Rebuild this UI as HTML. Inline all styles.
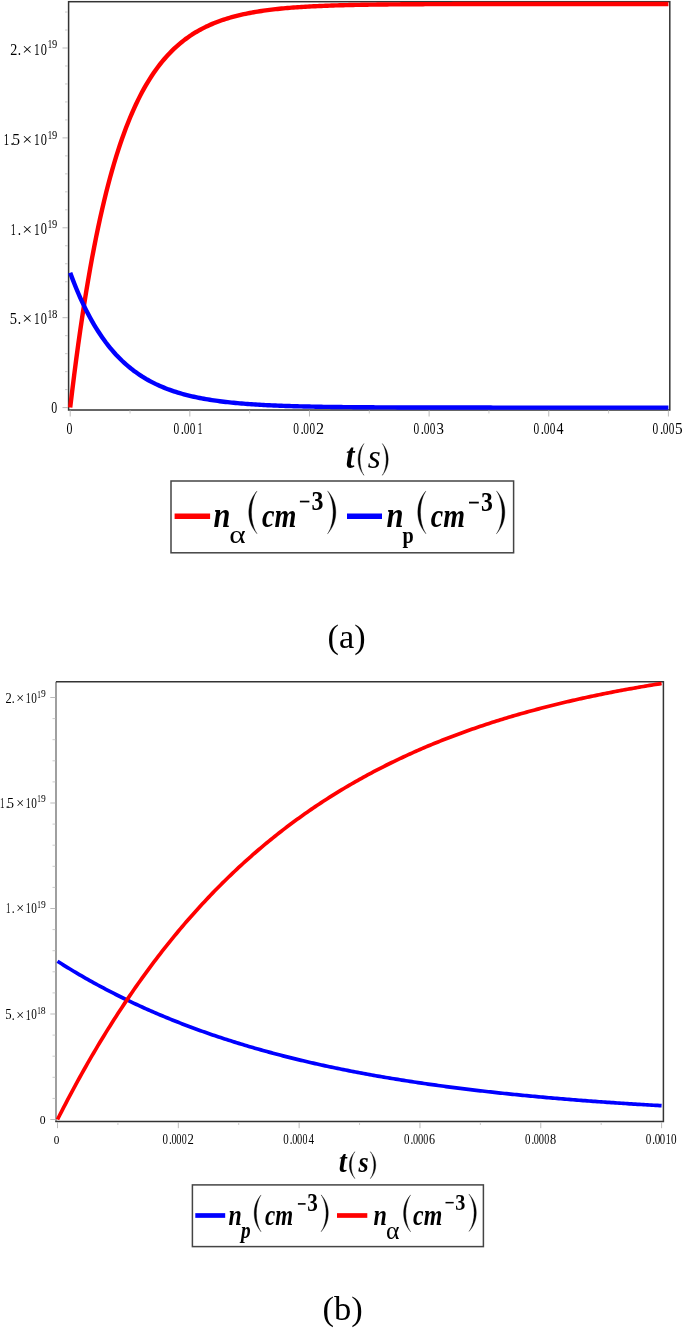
<!DOCTYPE html>
<html><head><meta charset="utf-8"><title>n_alpha and n_p vs time</title>
<style>html,body{margin:0;padding:0;background:#fff;}svg{display:block;will-change:transform;}</style></head>
<body><svg width="685" height="1328" viewBox="0 0 685 1328">
<rect width="685" height="1328" fill="#fff"/>
<rect x="68.6" y="1.7" width="601.2" height="408.3" fill="none" stroke="#333" stroke-width="1.5"/>
<line x1="62.5" y1="407.60" x2="68" y2="407.60" stroke="#bbb" stroke-width="1"/>
<line x1="65" y1="389.62" x2="68" y2="389.62" stroke="#ccc" stroke-width="1"/>
<line x1="65" y1="371.64" x2="68" y2="371.64" stroke="#ccc" stroke-width="1"/>
<line x1="65" y1="353.66" x2="68" y2="353.66" stroke="#ccc" stroke-width="1"/>
<line x1="65" y1="335.68" x2="68" y2="335.68" stroke="#ccc" stroke-width="1"/>
<line x1="62.5" y1="317.70" x2="68" y2="317.70" stroke="#bbb" stroke-width="1"/>
<line x1="65" y1="299.72" x2="68" y2="299.72" stroke="#ccc" stroke-width="1"/>
<line x1="65" y1="281.74" x2="68" y2="281.74" stroke="#ccc" stroke-width="1"/>
<line x1="65" y1="263.76" x2="68" y2="263.76" stroke="#ccc" stroke-width="1"/>
<line x1="65" y1="245.78" x2="68" y2="245.78" stroke="#ccc" stroke-width="1"/>
<line x1="62.5" y1="227.80" x2="68" y2="227.80" stroke="#bbb" stroke-width="1"/>
<line x1="65" y1="209.82" x2="68" y2="209.82" stroke="#ccc" stroke-width="1"/>
<line x1="65" y1="191.84" x2="68" y2="191.84" stroke="#ccc" stroke-width="1"/>
<line x1="65" y1="173.86" x2="68" y2="173.86" stroke="#ccc" stroke-width="1"/>
<line x1="65" y1="155.88" x2="68" y2="155.88" stroke="#ccc" stroke-width="1"/>
<line x1="62.5" y1="137.90" x2="68" y2="137.90" stroke="#bbb" stroke-width="1"/>
<line x1="65" y1="119.92" x2="68" y2="119.92" stroke="#ccc" stroke-width="1"/>
<line x1="65" y1="101.94" x2="68" y2="101.94" stroke="#ccc" stroke-width="1"/>
<line x1="65" y1="83.96" x2="68" y2="83.96" stroke="#ccc" stroke-width="1"/>
<line x1="65" y1="65.98" x2="68" y2="65.98" stroke="#ccc" stroke-width="1"/>
<line x1="62.5" y1="48.00" x2="68" y2="48.00" stroke="#bbb" stroke-width="1"/>
<line x1="65" y1="30.02" x2="68" y2="30.02" stroke="#ccc" stroke-width="1"/>
<line x1="65" y1="12.04" x2="68" y2="12.04" stroke="#ccc" stroke-width="1"/>
<line x1="70.20" y1="410.5" x2="70.20" y2="416.5" stroke="#bbb" stroke-width="1"/>
<line x1="130.02" y1="410.5" x2="130.02" y2="413.5" stroke="#ccc" stroke-width="1"/>
<line x1="189.84" y1="410.5" x2="189.84" y2="416.5" stroke="#bbb" stroke-width="1"/>
<line x1="249.66" y1="410.5" x2="249.66" y2="413.5" stroke="#ccc" stroke-width="1"/>
<line x1="309.48" y1="410.5" x2="309.48" y2="416.5" stroke="#bbb" stroke-width="1"/>
<line x1="369.30" y1="410.5" x2="369.30" y2="413.5" stroke="#ccc" stroke-width="1"/>
<line x1="429.12" y1="410.5" x2="429.12" y2="416.5" stroke="#bbb" stroke-width="1"/>
<line x1="488.94" y1="410.5" x2="488.94" y2="413.5" stroke="#ccc" stroke-width="1"/>
<line x1="548.76" y1="410.5" x2="548.76" y2="416.5" stroke="#bbb" stroke-width="1"/>
<line x1="608.58" y1="410.5" x2="608.58" y2="413.5" stroke="#ccc" stroke-width="1"/>
<line x1="668.40" y1="410.5" x2="668.40" y2="416.5" stroke="#bbb" stroke-width="1"/>
<path d="M70.20,407.60 L72.19,390.92 L74.19,374.93 L76.18,359.61 L78.18,344.91 L80.17,330.82 L82.16,317.32 L84.16,304.37 L86.15,291.96 L88.15,280.06 L90.14,268.65 L92.13,257.72 L94.13,247.23 L96.12,237.18 L98.12,227.54 L100.11,218.31 L102.10,209.45 L104.10,200.96 L106.09,192.82 L108.09,185.02 L110.08,177.53 L112.07,170.36 L114.07,163.49 L116.06,156.90 L118.06,150.58 L120.05,144.52 L122.04,138.71 L124.04,133.14 L126.03,127.80 L128.03,122.69 L130.02,117.78 L132.01,113.08 L134.01,108.57 L136.00,104.25 L138.00,100.10 L139.99,96.13 L141.98,92.32 L143.98,88.67 L145.97,85.17 L147.97,81.81 L149.96,78.60 L151.95,75.51 L153.95,72.56 L155.94,69.72 L157.94,67.00 L159.93,64.40 L161.92,61.90 L163.92,59.51 L165.91,57.21 L167.91,55.01 L169.90,52.90 L171.89,50.88 L173.89,48.94 L175.88,47.08 L177.88,45.30 L179.87,43.59 L181.86,41.95 L183.86,40.38 L185.85,38.88 L187.85,37.43 L189.84,36.05 L191.83,34.72 L193.83,33.45 L195.82,32.23 L197.82,31.07 L199.81,29.94 L201.80,28.87 L203.80,27.84 L205.79,26.85 L207.79,25.91 L209.78,25.00 L211.77,24.13 L213.77,23.30 L215.76,22.50 L217.76,21.73 L219.75,21.00 L221.74,20.29 L223.74,19.62 L225.73,18.97 L227.73,18.35 L229.72,17.75 L231.71,17.18 L233.71,16.64 L235.70,16.11 L237.70,15.61 L239.69,15.13 L241.68,14.67 L243.68,14.22 L245.67,13.80 L247.67,13.39 L249.66,13.00 L251.65,12.63 L253.65,12.27 L255.64,11.93 L257.64,11.60 L259.63,11.28 L261.62,10.98 L263.62,10.69 L265.61,10.41 L267.61,10.14 L269.60,9.89 L271.59,9.64 L273.59,9.41 L275.58,9.18 L277.58,8.96 L279.57,8.76 L281.56,8.56 L283.56,8.37 L285.55,8.18 L287.55,8.01 L289.54,7.84 L291.53,7.68 L293.53,7.53 L295.52,7.38 L297.52,7.24 L299.51,7.10 L301.50,6.97 L303.50,6.85 L305.49,6.73 L307.49,6.61 L309.48,6.50 L311.47,6.40 L313.47,6.30 L315.46,6.20 L317.46,6.11 L319.45,6.02 L321.44,5.93 L323.44,5.85 L325.43,5.77 L327.43,5.70 L329.42,5.62 L331.41,5.55 L333.41,5.49 L335.40,5.42 L337.40,5.36 L339.39,5.30 L341.38,5.25 L343.38,5.20 L345.37,5.14 L347.37,5.09 L349.36,5.05 L351.35,5.00 L353.35,4.96 L355.34,4.92 L357.34,4.88 L359.33,4.84 L361.32,4.80 L363.32,4.77 L365.31,4.73 L367.31,4.70 L369.30,4.67 L371.29,4.64 L373.29,4.61 L375.28,4.58 L377.28,4.56 L379.27,4.53 L381.26,4.51 L383.26,4.48 L385.25,4.46 L387.25,4.44 L389.24,4.42 L391.23,4.40 L393.23,4.38 L395.22,4.36 L397.22,4.35 L399.21,4.33 L401.20,4.32 L403.20,4.30 L405.19,4.29 L407.19,4.27 L409.18,4.26 L411.17,4.25 L413.17,4.23 L415.16,4.22 L417.16,4.21 L419.15,4.20 L421.14,4.19 L423.14,4.18 L425.13,4.17 L427.13,4.16 L429.12,4.15 L431.11,4.14 L433.11,4.14 L435.10,4.13 L437.10,4.12 L439.09,4.11 L441.08,4.11 L443.08,4.10 L445.07,4.09 L447.07,4.09 L449.06,4.08 L451.05,4.08 L453.05,4.07 L455.04,4.07 L457.04,4.06 L459.03,4.06 L461.02,4.05 L463.02,4.05 L465.01,4.04 L467.01,4.04 L469.00,4.04 L470.99,4.03 L472.99,4.03 L474.98,4.03 L476.98,4.02 L478.97,4.02 L480.96,4.02 L482.96,4.01 L484.95,4.01 L486.95,4.01 L488.94,4.01 L490.93,4.00 L492.93,4.00 L494.92,4.00 L496.92,4.00 L498.91,4.00 L500.90,3.99 L502.90,3.99 L504.89,3.99 L506.89,3.99 L508.88,3.99 L510.87,3.98 L512.87,3.98 L514.86,3.98 L516.86,3.98 L518.85,3.98 L520.84,3.98 L522.84,3.98 L524.83,3.98 L526.83,3.97 L528.82,3.97 L530.81,3.97 L532.81,3.97 L534.80,3.97 L536.80,3.97 L538.79,3.97 L540.78,3.97 L542.78,3.97 L544.77,3.97 L546.77,3.97 L548.76,3.97 L550.75,3.96 L552.75,3.96 L554.74,3.96 L556.74,3.96 L558.73,3.96 L560.72,3.96 L562.72,3.96 L564.71,3.96 L566.71,3.96 L568.70,3.96 L570.69,3.96 L572.69,3.96 L574.68,3.96 L576.68,3.96 L578.67,3.96 L580.66,3.96 L582.66,3.96 L584.65,3.96 L586.65,3.96 L588.64,3.96 L590.63,3.96 L592.63,3.96 L594.62,3.96 L596.62,3.95 L598.61,3.95 L600.60,3.95 L602.60,3.95 L604.59,3.95 L606.59,3.95 L608.58,3.95 L610.57,3.95 L612.57,3.95 L614.56,3.95 L616.56,3.95 L618.55,3.95 L620.54,3.95 L622.54,3.95 L624.53,3.95 L626.53,3.95 L628.52,3.95 L630.51,3.95 L632.51,3.95 L634.50,3.95 L636.50,3.95 L638.49,3.95 L640.48,3.95 L642.48,3.95 L644.47,3.95 L646.47,3.95 L648.46,3.95 L650.45,3.95 L652.45,3.95 L654.44,3.95 L656.44,3.95 L658.43,3.95 L660.42,3.95 L662.42,3.95 L664.41,3.95 L666.41,3.95 L668.40,3.95" fill="none" stroke="#ff0000" stroke-width="4.4" stroke-linejoin="round"/>
<path d="M70.20,272.75 L72.19,278.12 L74.19,283.28 L76.18,288.23 L78.18,292.99 L80.17,297.55 L82.16,301.94 L84.16,306.15 L86.15,310.19 L88.15,314.07 L90.14,317.79 L92.13,321.37 L94.13,324.81 L96.12,328.10 L98.12,331.27 L100.11,334.31 L102.10,337.23 L104.10,340.03 L106.09,342.73 L108.09,345.31 L110.08,347.79 L112.07,350.17 L114.07,352.46 L116.06,354.66 L118.06,356.77 L120.05,358.79 L122.04,360.74 L124.04,362.60 L126.03,364.40 L128.03,366.12 L130.02,367.77 L132.01,369.36 L134.01,370.88 L136.00,372.34 L138.00,373.75 L139.99,375.09 L141.98,376.39 L143.98,377.63 L145.97,378.83 L147.97,379.97 L149.96,381.07 L151.95,382.13 L153.95,383.14 L155.94,384.12 L157.94,385.05 L159.93,385.95 L161.92,386.81 L163.92,387.64 L165.91,388.44 L167.91,389.20 L169.90,389.93 L171.89,390.64 L173.89,391.31 L175.88,391.96 L177.88,392.59 L179.87,393.18 L181.86,393.76 L183.86,394.31 L185.85,394.84 L187.85,395.35 L189.84,395.83 L191.83,396.30 L193.83,396.75 L195.82,397.19 L197.82,397.60 L199.81,398.00 L201.80,398.38 L203.80,398.75 L205.79,399.10 L207.79,399.44 L209.78,399.76 L211.77,400.08 L213.77,400.38 L215.76,400.66 L217.76,400.94 L219.75,401.21 L221.74,401.46 L223.74,401.71 L225.73,401.94 L227.73,402.17 L229.72,402.38 L231.71,402.59 L233.71,402.79 L235.70,402.98 L237.70,403.16 L239.69,403.34 L241.68,403.51 L243.68,403.67 L245.67,403.83 L247.67,403.98 L249.66,404.12 L251.65,404.26 L253.65,404.40 L255.64,404.52 L257.64,404.65 L259.63,404.76 L261.62,404.88 L263.62,404.99 L265.61,405.09 L267.61,405.19 L269.60,405.29 L271.59,405.38 L273.59,405.47 L275.58,405.55 L277.58,405.63 L279.57,405.71 L281.56,405.79 L283.56,405.86 L285.55,405.93 L287.55,405.99 L289.54,406.06 L291.53,406.12 L293.53,406.18 L295.52,406.24 L297.52,406.29 L299.51,406.34 L301.50,406.39 L303.50,406.44 L305.49,406.49 L307.49,406.53 L309.48,406.57 L311.47,406.61 L313.47,406.65 L315.46,406.69 L317.46,406.73 L319.45,406.76 L321.44,406.80 L323.44,406.83 L325.43,406.86 L327.43,406.89 L329.42,406.92 L331.41,406.94 L333.41,406.97 L335.40,406.99 L337.40,407.02 L339.39,407.04 L341.38,407.06 L343.38,407.09 L345.37,407.11 L347.37,407.13 L349.36,407.14 L351.35,407.16 L353.35,407.18 L355.34,407.20 L357.34,407.21 L359.33,407.23 L361.32,407.24 L363.32,407.26 L365.31,407.27 L367.31,407.28 L369.30,407.30 L371.29,407.31 L373.29,407.32 L375.28,407.33 L377.28,407.34 L379.27,407.35 L381.26,407.36 L383.26,407.37 L385.25,407.38 L387.25,407.39 L389.24,407.40 L391.23,407.41 L393.23,407.41 L395.22,407.42 L397.22,407.43 L399.21,407.44 L401.20,407.44 L403.20,407.45 L405.19,407.45 L407.19,407.46 L409.18,407.47 L411.17,407.47 L413.17,407.48 L415.16,407.48 L417.16,407.49 L419.15,407.49 L421.14,407.49 L423.14,407.50 L425.13,407.50 L427.13,407.51 L429.12,407.51 L431.11,407.51 L433.11,407.52 L435.10,407.52 L437.10,407.52 L439.09,407.53 L441.08,407.53 L443.08,407.53 L445.07,407.54 L447.07,407.54 L449.06,407.54 L451.05,407.54 L453.05,407.55 L455.04,407.55 L457.04,407.55 L459.03,407.55 L461.02,407.55 L463.02,407.56 L465.01,407.56 L467.01,407.56 L469.00,407.56 L470.99,407.56 L472.99,407.56 L474.98,407.56 L476.98,407.57 L478.97,407.57 L480.96,407.57 L482.96,407.57 L484.95,407.57 L486.95,407.57 L488.94,407.57 L490.93,407.57 L492.93,407.58 L494.92,407.58 L496.92,407.58 L498.91,407.58 L500.90,407.58 L502.90,407.58 L504.89,407.58 L506.89,407.58 L508.88,407.58 L510.87,407.58 L512.87,407.58 L514.86,407.58 L516.86,407.59 L518.85,407.59 L520.84,407.59 L522.84,407.59 L524.83,407.59 L526.83,407.59 L528.82,407.59 L530.81,407.59 L532.81,407.59 L534.80,407.59 L536.80,407.59 L538.79,407.59 L540.78,407.59 L542.78,407.59 L544.77,407.59 L546.77,407.59 L548.76,407.59 L550.75,407.59 L552.75,407.59 L554.74,407.59 L556.74,407.59 L558.73,407.59 L560.72,407.59 L562.72,407.59 L564.71,407.59 L566.71,407.59 L568.70,407.59 L570.69,407.60 L572.69,407.60 L574.68,407.60 L576.68,407.60 L578.67,407.60 L580.66,407.60 L582.66,407.60 L584.65,407.60 L586.65,407.60 L588.64,407.60 L590.63,407.60 L592.63,407.60 L594.62,407.60 L596.62,407.60 L598.61,407.60 L600.60,407.60 L602.60,407.60 L604.59,407.60 L606.59,407.60 L608.58,407.60 L610.57,407.60 L612.57,407.60 L614.56,407.60 L616.56,407.60 L618.55,407.60 L620.54,407.60 L622.54,407.60 L624.53,407.60 L626.53,407.60 L628.52,407.60 L630.51,407.60 L632.51,407.60 L634.50,407.60 L636.50,407.60 L638.49,407.60 L640.48,407.60 L642.48,407.60 L644.47,407.60 L646.47,407.60 L648.46,407.60 L650.45,407.60 L652.45,407.60 L654.44,407.60 L656.44,407.60 L658.43,407.60 L660.42,407.60 L662.42,407.60 L664.41,407.60 L666.41,407.60 L668.40,407.60" fill="none" stroke="#0000ff" stroke-width="4.4" stroke-linejoin="round"/>
<text transform="translate(10.13,54.85) scale(0.8247,1)" font-family="'Liberation Serif', serif" font-style="normal" font-weight="normal" font-size="17.15" fill="#000">2</text>
<text transform="translate(17.67,54.85) scale(0.8000,1)" font-family="'Liberation Serif', serif" font-style="normal" font-weight="normal" font-size="16.60" fill="#000">.</text>
<text transform="translate(22.28,54.86) scale(1.1196,1)" font-family="'Liberation Serif', serif" font-style="normal" font-weight="normal" font-size="15.85" fill="#000">×</text>
<text transform="translate(33.97,54.85) scale(0.6662,1)" font-family="'Liberation Serif', serif" font-style="normal" font-weight="normal" font-size="17.15" fill="#000">1</text>
<text transform="translate(40.70,54.68) scale(0.7440,1)" font-family="'Liberation Serif', serif" font-style="normal" font-weight="normal" font-size="16.64" fill="#000">0</text>
<text transform="translate(47.80,48.30) scale(0.7288,1)" font-family="'Liberation Serif', serif" font-style="normal" font-weight="normal" font-size="12.15" fill="#000">1</text>
<text transform="translate(52.09,48.18) scale(0.8875,1)" font-family="'Liberation Serif', serif" font-style="normal" font-weight="normal" font-size="11.79" fill="#000">9</text>
<text transform="translate(3.65,145.35) scale(0.6163,1)" font-family="'Liberation Serif', serif" font-style="normal" font-weight="normal" font-size="17.15" fill="#000">1</text>
<text transform="translate(10.57,145.35) scale(0.8000,1)" font-family="'Liberation Serif', serif" font-style="normal" font-weight="normal" font-size="16.60" fill="#000">.</text>
<text transform="translate(12.17,145.18) scale(0.9175,1)" font-family="'Liberation Serif', serif" font-style="normal" font-weight="normal" font-size="16.89" fill="#000">5</text>
<text transform="translate(22.28,145.36) scale(1.1196,1)" font-family="'Liberation Serif', serif" font-style="normal" font-weight="normal" font-size="15.85" fill="#000">×</text>
<text transform="translate(33.97,145.35) scale(0.6662,1)" font-family="'Liberation Serif', serif" font-style="normal" font-weight="normal" font-size="17.15" fill="#000">1</text>
<text transform="translate(40.70,145.18) scale(0.7440,1)" font-family="'Liberation Serif', serif" font-style="normal" font-weight="normal" font-size="16.64" fill="#000">0</text>
<text transform="translate(47.80,138.80) scale(0.7288,1)" font-family="'Liberation Serif', serif" font-style="normal" font-weight="normal" font-size="12.15" fill="#000">1</text>
<text transform="translate(52.09,138.68) scale(0.8875,1)" font-family="'Liberation Serif', serif" font-style="normal" font-weight="normal" font-size="11.79" fill="#000">9</text>
<text transform="translate(10.70,234.55) scale(0.5830,1)" font-family="'Liberation Serif', serif" font-style="normal" font-weight="normal" font-size="17.15" fill="#000">1</text>
<text transform="translate(17.67,234.55) scale(0.8000,1)" font-family="'Liberation Serif', serif" font-style="normal" font-weight="normal" font-size="16.60" fill="#000">.</text>
<text transform="translate(22.28,234.56) scale(1.1196,1)" font-family="'Liberation Serif', serif" font-style="normal" font-weight="normal" font-size="15.85" fill="#000">×</text>
<text transform="translate(33.97,234.55) scale(0.6662,1)" font-family="'Liberation Serif', serif" font-style="normal" font-weight="normal" font-size="17.15" fill="#000">1</text>
<text transform="translate(40.70,234.38) scale(0.7440,1)" font-family="'Liberation Serif', serif" font-style="normal" font-weight="normal" font-size="16.64" fill="#000">0</text>
<text transform="translate(47.80,228.00) scale(0.7288,1)" font-family="'Liberation Serif', serif" font-style="normal" font-weight="normal" font-size="12.15" fill="#000">1</text>
<text transform="translate(52.09,227.88) scale(0.8875,1)" font-family="'Liberation Serif', serif" font-style="normal" font-weight="normal" font-size="11.79" fill="#000">9</text>
<text transform="translate(9.83,324.18) scale(0.8583,1)" font-family="'Liberation Serif', serif" font-style="normal" font-weight="normal" font-size="16.89" fill="#000">5</text>
<text transform="translate(17.67,324.35) scale(0.8000,1)" font-family="'Liberation Serif', serif" font-style="normal" font-weight="normal" font-size="16.60" fill="#000">.</text>
<text transform="translate(22.28,324.36) scale(1.1196,1)" font-family="'Liberation Serif', serif" font-style="normal" font-weight="normal" font-size="15.85" fill="#000">×</text>
<text transform="translate(33.97,324.35) scale(0.6662,1)" font-family="'Liberation Serif', serif" font-style="normal" font-weight="normal" font-size="17.15" fill="#000">1</text>
<text transform="translate(40.70,324.18) scale(0.7440,1)" font-family="'Liberation Serif', serif" font-style="normal" font-weight="normal" font-size="16.64" fill="#000">0</text>
<text transform="translate(47.80,317.80) scale(0.7288,1)" font-family="'Liberation Serif', serif" font-style="normal" font-weight="normal" font-size="12.15" fill="#000">1</text>
<text transform="translate(51.97,317.68) scale(0.9087,1)" font-family="'Liberation Serif', serif" font-style="normal" font-weight="normal" font-size="11.79" fill="#000">8</text>
<text transform="translate(51.32,412.84) scale(0.7385,1)" font-family="'Liberation Serif', serif" font-style="normal" font-weight="normal" font-size="16.12" fill="#000">0</text>
<text transform="translate(66.52,433.64) scale(0.7385,1)" font-family="'Liberation Serif', serif" font-style="normal" font-weight="normal" font-size="16.12" fill="#000">0</text>
<text transform="translate(173.44,433.74) scale(0.6961,1)" font-family="'Liberation Serif', serif" font-style="normal" font-weight="normal" font-size="16.42" fill="#000">0</text>
<text transform="translate(180.87,433.90) scale(0.8000,1)" font-family="'Liberation Serif', serif" font-style="normal" font-weight="normal" font-size="16.60" fill="#000">.</text>
<text transform="translate(183.64,433.74) scale(0.6961,1)" font-family="'Liberation Serif', serif" font-style="normal" font-weight="normal" font-size="16.42" fill="#000">0</text>
<text transform="translate(189.75,433.74) scale(0.6816,1)" font-family="'Liberation Serif', serif" font-style="normal" font-weight="normal" font-size="16.42" fill="#000">0</text>
<text transform="translate(197.60,433.90) scale(0.5909,1)" font-family="'Liberation Serif', serif" font-style="normal" font-weight="normal" font-size="16.92" fill="#000">1</text>
<text transform="translate(293.14,433.74) scale(0.6961,1)" font-family="'Liberation Serif', serif" font-style="normal" font-weight="normal" font-size="16.42" fill="#000">0</text>
<text transform="translate(300.57,433.90) scale(0.8000,1)" font-family="'Liberation Serif', serif" font-style="normal" font-weight="normal" font-size="16.60" fill="#000">.</text>
<text transform="translate(303.34,433.74) scale(0.6961,1)" font-family="'Liberation Serif', serif" font-style="normal" font-weight="normal" font-size="16.42" fill="#000">0</text>
<text transform="translate(309.45,433.74) scale(0.6816,1)" font-family="'Liberation Serif', serif" font-style="normal" font-weight="normal" font-size="16.42" fill="#000">0</text>
<text transform="translate(315.96,433.90) scale(0.9512,1)" font-family="'Liberation Serif', serif" font-style="normal" font-weight="normal" font-size="16.92" fill="#000">2</text>
<text transform="translate(413.44,433.74) scale(0.6961,1)" font-family="'Liberation Serif', serif" font-style="normal" font-weight="normal" font-size="16.42" fill="#000">0</text>
<text transform="translate(420.87,433.90) scale(0.8000,1)" font-family="'Liberation Serif', serif" font-style="normal" font-weight="normal" font-size="16.60" fill="#000">.</text>
<text transform="translate(423.64,433.74) scale(0.6961,1)" font-family="'Liberation Serif', serif" font-style="normal" font-weight="normal" font-size="16.42" fill="#000">0</text>
<text transform="translate(429.75,433.74) scale(0.6816,1)" font-family="'Liberation Serif', serif" font-style="normal" font-weight="normal" font-size="16.42" fill="#000">0</text>
<text transform="translate(436.56,433.74) scale(0.9062,1)" font-family="'Liberation Serif', serif" font-style="normal" font-weight="normal" font-size="16.42" fill="#000">3</text>
<text transform="translate(533.44,433.74) scale(0.6961,1)" font-family="'Liberation Serif', serif" font-style="normal" font-weight="normal" font-size="16.42" fill="#000">0</text>
<text transform="translate(540.87,433.90) scale(0.8000,1)" font-family="'Liberation Serif', serif" font-style="normal" font-weight="normal" font-size="16.60" fill="#000">.</text>
<text transform="translate(543.64,433.74) scale(0.6961,1)" font-family="'Liberation Serif', serif" font-style="normal" font-weight="normal" font-size="16.42" fill="#000">0</text>
<text transform="translate(549.75,433.74) scale(0.6816,1)" font-family="'Liberation Serif', serif" font-style="normal" font-weight="normal" font-size="16.42" fill="#000">0</text>
<text transform="translate(556.52,433.90) scale(0.8298,1)" font-family="'Liberation Serif', serif" font-style="normal" font-weight="normal" font-size="16.92" fill="#000">4</text>
<text transform="translate(652.54,433.74) scale(0.6961,1)" font-family="'Liberation Serif', serif" font-style="normal" font-weight="normal" font-size="16.42" fill="#000">0</text>
<text transform="translate(659.97,433.90) scale(0.8000,1)" font-family="'Liberation Serif', serif" font-style="normal" font-weight="normal" font-size="16.60" fill="#000">.</text>
<text transform="translate(662.74,433.74) scale(0.6961,1)" font-family="'Liberation Serif', serif" font-style="normal" font-weight="normal" font-size="16.42" fill="#000">0</text>
<text transform="translate(668.85,433.74) scale(0.6816,1)" font-family="'Liberation Serif', serif" font-style="normal" font-weight="normal" font-size="16.42" fill="#000">0</text>
<text transform="translate(675.09,433.73) scale(0.9150,1)" font-family="'Liberation Serif', serif" font-style="normal" font-weight="normal" font-size="16.67" fill="#000">5</text>
<text transform="translate(345.86,467.73) scale(0.8586,1)" font-family="'Liberation Serif', serif" font-style="italic" font-weight="bold" font-size="36.67" fill="#000">t</text>
<path d="M364.10,443.60 C356.10,452.16 356.10,466.74 364.10,475.30 L363.60,475.00 C358.80,466.74 358.80,452.16 363.60,443.90 Z" fill="#000" stroke="#000" stroke-width="0.35"/>
<text transform="translate(367.77,467.76) scale(0.9966,1)" font-family="'Liberation Serif', serif" font-style="italic" font-weight="normal" font-size="33.54" fill="#000">s</text>
<path d="M382.20,443.60 C390.20,452.16 390.20,466.74 382.20,475.30 L382.70,475.00 C387.50,466.74 387.50,452.16 382.70,443.90 Z" fill="#000" stroke="#000" stroke-width="0.35"/>
<rect x="171" y="481" width="342.6" height="71.8" fill="none" stroke="#444" stroke-width="1.5"/>
<line x1="174.6" y1="516.2" x2="210.1" y2="516.2" stroke="#ff0000" stroke-width="5.4"/>
<text transform="translate(213.59,526.90) scale(0.8715,1)" font-family="'Liberation Serif', serif" font-style="italic" font-weight="bold" font-size="34.89" fill="#000">n</text>
<text transform="translate(229.25,542.95) scale(1.2316,1)" font-family="'Liberation Serif', serif" font-style="normal" font-weight="normal" font-size="25.42" fill="#000">α</text>
<path d="M257.10,491.10 C246.03,502.58 246.03,522.12 257.10,533.60 L256.60,533.30 C249.67,522.12 249.67,502.58 256.60,491.40 Z" fill="#000" stroke="#000" stroke-width="0.35"/>
<text transform="translate(261.92,526.56) scale(0.8251,1)" font-family="'Liberation Serif', serif" font-style="italic" font-weight="bold" font-size="34.17" fill="#000">cm</text>
<rect x="299.90" y="500.70" width="9.50" height="1.70" fill="#000"/>
<text transform="translate(311.44,509.62) scale(0.8582,1)" font-family="'Liberation Serif', serif" font-style="normal" font-weight="bold" font-size="27.91" fill="#000">3</text>
<path d="M327.60,491.10 C338.53,502.58 338.53,522.12 327.60,533.60 L328.10,533.30 C334.90,522.12 334.90,502.58 328.10,491.40 Z" fill="#000" stroke="#000" stroke-width="0.35"/>
<line x1="347" y1="516.2" x2="382" y2="516.2" stroke="#0000ff" stroke-width="5.4"/>
<text transform="translate(386.39,526.90) scale(0.8773,1)" font-family="'Liberation Serif', serif" font-style="italic" font-weight="bold" font-size="34.89" fill="#000">n</text>
<text transform="translate(402.50,543.06) scale(0.8583,1)" font-family="'Liberation Serif', serif" font-style="normal" font-weight="bold" font-size="23.53" fill="#000">p</text>
<path d="M426.00,491.10 C415.07,502.58 415.07,522.12 426.00,533.60 L425.50,533.30 C418.70,522.12 418.70,502.58 425.50,491.40 Z" fill="#000" stroke="#000" stroke-width="0.35"/>
<text transform="translate(430.72,526.56) scale(0.8200,1)" font-family="'Liberation Serif', serif" font-style="italic" font-weight="bold" font-size="34.17" fill="#000">cm</text>
<rect x="469.00" y="501.70" width="9.80" height="1.80" fill="#000"/>
<text transform="translate(480.95,510.82) scale(0.8499,1)" font-family="'Liberation Serif', serif" font-style="normal" font-weight="bold" font-size="27.91" fill="#000">3</text>
<path d="M496.50,491.10 C507.57,502.58 507.57,522.12 496.50,533.60 L497.00,533.30 C503.93,522.12 503.93,502.58 497.00,491.40 Z" fill="#000" stroke="#000" stroke-width="0.35"/>
<text transform="translate(327.53,647.92) scale(0.9886,1)" font-family="'Liberation Serif', serif" font-style="normal" font-weight="normal" font-size="34.67" fill="#000">(a)</text>
<line x1="56" y1="681.7" x2="56" y2="1122" stroke="#888" stroke-width="1.6"/>
<polyline points="56,681.7 663.4,681.7 663.4,1121.4 55.3,1121.4" fill="none" stroke="#333" stroke-width="1.5"/>
<line x1="50.3" y1="1119.50" x2="55.3" y2="1119.50" stroke="#bbb" stroke-width="1"/>
<line x1="52.5" y1="1098.40" x2="55.3" y2="1098.40" stroke="#ccc" stroke-width="1"/>
<line x1="52.5" y1="1077.30" x2="55.3" y2="1077.30" stroke="#ccc" stroke-width="1"/>
<line x1="52.5" y1="1056.20" x2="55.3" y2="1056.20" stroke="#ccc" stroke-width="1"/>
<line x1="52.5" y1="1035.10" x2="55.3" y2="1035.10" stroke="#ccc" stroke-width="1"/>
<line x1="50.3" y1="1014.00" x2="55.3" y2="1014.00" stroke="#bbb" stroke-width="1"/>
<line x1="52.5" y1="992.90" x2="55.3" y2="992.90" stroke="#ccc" stroke-width="1"/>
<line x1="52.5" y1="971.80" x2="55.3" y2="971.80" stroke="#ccc" stroke-width="1"/>
<line x1="52.5" y1="950.70" x2="55.3" y2="950.70" stroke="#ccc" stroke-width="1"/>
<line x1="52.5" y1="929.60" x2="55.3" y2="929.60" stroke="#ccc" stroke-width="1"/>
<line x1="50.3" y1="908.50" x2="55.3" y2="908.50" stroke="#bbb" stroke-width="1"/>
<line x1="52.5" y1="887.40" x2="55.3" y2="887.40" stroke="#ccc" stroke-width="1"/>
<line x1="52.5" y1="866.30" x2="55.3" y2="866.30" stroke="#ccc" stroke-width="1"/>
<line x1="52.5" y1="845.20" x2="55.3" y2="845.20" stroke="#ccc" stroke-width="1"/>
<line x1="52.5" y1="824.10" x2="55.3" y2="824.10" stroke="#ccc" stroke-width="1"/>
<line x1="50.3" y1="803.00" x2="55.3" y2="803.00" stroke="#bbb" stroke-width="1"/>
<line x1="52.5" y1="781.90" x2="55.3" y2="781.90" stroke="#ccc" stroke-width="1"/>
<line x1="52.5" y1="760.80" x2="55.3" y2="760.80" stroke="#ccc" stroke-width="1"/>
<line x1="52.5" y1="739.70" x2="55.3" y2="739.70" stroke="#ccc" stroke-width="1"/>
<line x1="52.5" y1="718.60" x2="55.3" y2="718.60" stroke="#ccc" stroke-width="1"/>
<line x1="50.3" y1="697.50" x2="55.3" y2="697.50" stroke="#bbb" stroke-width="1"/>
<line x1="57.50" y1="1122" x2="57.50" y2="1128.2" stroke="#bbb" stroke-width="1"/>
<line x1="117.91" y1="1122" x2="117.91" y2="1125" stroke="#ccc" stroke-width="1"/>
<line x1="178.32" y1="1122" x2="178.32" y2="1128.2" stroke="#bbb" stroke-width="1"/>
<line x1="238.73" y1="1122" x2="238.73" y2="1125" stroke="#ccc" stroke-width="1"/>
<line x1="299.14" y1="1122" x2="299.14" y2="1128.2" stroke="#bbb" stroke-width="1"/>
<line x1="359.55" y1="1122" x2="359.55" y2="1125" stroke="#ccc" stroke-width="1"/>
<line x1="419.96" y1="1122" x2="419.96" y2="1128.2" stroke="#bbb" stroke-width="1"/>
<line x1="480.37" y1="1122" x2="480.37" y2="1125" stroke="#ccc" stroke-width="1"/>
<line x1="540.78" y1="1122" x2="540.78" y2="1128.2" stroke="#bbb" stroke-width="1"/>
<line x1="601.19" y1="1122" x2="601.19" y2="1125" stroke="#ccc" stroke-width="1"/>
<line x1="661.60" y1="1122" x2="661.60" y2="1128.2" stroke="#bbb" stroke-width="1"/>
<path d="M57.50,961.25 L59.51,962.53 L61.53,963.80 L63.54,965.06 L65.55,966.31 L67.57,967.55 L69.58,968.78 L71.60,970.00 L73.61,971.22 L75.62,972.42 L77.64,973.61 L79.65,974.79 L81.66,975.96 L83.68,977.12 L85.69,978.27 L87.70,979.42 L89.72,980.55 L91.73,981.68 L93.75,982.79 L95.76,983.90 L97.77,985.00 L99.79,986.09 L101.80,987.17 L103.81,988.24 L105.83,989.30 L107.84,990.36 L109.86,991.40 L111.87,992.44 L113.88,993.47 L115.90,994.49 L117.91,995.50 L119.92,996.51 L121.94,997.50 L123.95,998.49 L125.96,999.47 L127.98,1000.44 L129.99,1001.40 L132.01,1002.36 L134.02,1003.31 L136.03,1004.25 L138.05,1005.18 L140.06,1006.11 L142.07,1007.03 L144.09,1007.94 L146.10,1008.84 L148.12,1009.74 L150.13,1010.63 L152.14,1011.51 L154.16,1012.38 L156.17,1013.25 L158.18,1014.11 L160.20,1014.96 L162.21,1015.81 L164.22,1016.65 L166.24,1017.48 L168.25,1018.31 L170.27,1019.13 L172.28,1019.94 L174.29,1020.75 L176.31,1021.55 L178.32,1022.34 L180.33,1023.13 L182.35,1023.91 L184.36,1024.68 L186.37,1025.45 L188.39,1026.21 L190.40,1026.96 L192.42,1027.71 L194.43,1028.46 L196.44,1029.19 L198.46,1029.93 L200.47,1030.65 L202.48,1031.37 L204.50,1032.08 L206.51,1032.79 L208.53,1033.49 L210.54,1034.19 L212.55,1034.88 L214.57,1035.57 L216.58,1036.25 L218.59,1036.92 L220.61,1037.59 L222.62,1038.25 L224.63,1038.91 L226.65,1039.56 L228.66,1040.21 L230.68,1040.85 L232.69,1041.49 L234.70,1042.12 L236.72,1042.75 L238.73,1043.37 L240.74,1043.98 L242.76,1044.60 L244.77,1045.20 L246.78,1045.80 L248.80,1046.40 L250.81,1046.99 L252.83,1047.58 L254.84,1048.16 L256.85,1048.74 L258.87,1049.31 L260.88,1049.88 L262.89,1050.44 L264.91,1051.00 L266.92,1051.56 L268.94,1052.11 L270.95,1052.65 L272.96,1053.20 L274.98,1053.73 L276.99,1054.26 L279.00,1054.79 L281.02,1055.32 L283.03,1055.84 L285.04,1056.35 L287.06,1056.86 L289.07,1057.37 L291.09,1057.87 L293.10,1058.37 L295.11,1058.87 L297.13,1059.36 L299.14,1059.85 L301.15,1060.33 L303.17,1060.81 L305.18,1061.28 L307.19,1061.75 L309.21,1062.22 L311.22,1062.69 L313.24,1063.15 L315.25,1063.60 L317.26,1064.05 L319.28,1064.50 L321.29,1064.95 L323.30,1065.39 L325.32,1065.83 L327.33,1066.26 L329.35,1066.69 L331.36,1067.12 L333.37,1067.55 L335.39,1067.97 L337.40,1068.38 L339.41,1068.80 L341.43,1069.21 L343.44,1069.62 L345.45,1070.02 L347.47,1070.42 L349.48,1070.82 L351.50,1071.21 L353.51,1071.60 L355.52,1071.99 L357.54,1072.38 L359.55,1072.76 L361.56,1073.14 L363.58,1073.51 L365.59,1073.88 L367.60,1074.25 L369.62,1074.62 L371.63,1074.98 L373.65,1075.34 L375.66,1075.70 L377.67,1076.06 L379.69,1076.41 L381.70,1076.76 L383.71,1077.10 L385.73,1077.45 L387.74,1077.79 L389.76,1078.12 L391.77,1078.46 L393.78,1078.79 L395.80,1079.12 L397.81,1079.45 L399.82,1079.77 L401.84,1080.09 L403.85,1080.41 L405.86,1080.73 L407.88,1081.04 L409.89,1081.35 L411.91,1081.66 L413.92,1081.97 L415.93,1082.27 L417.95,1082.57 L419.96,1082.87 L421.97,1083.17 L423.99,1083.46 L426.00,1083.76 L428.01,1084.05 L430.03,1084.33 L432.04,1084.62 L434.06,1084.90 L436.07,1085.18 L438.08,1085.46 L440.10,1085.73 L442.11,1086.01 L444.12,1086.28 L446.14,1086.55 L448.15,1086.81 L450.16,1087.08 L452.18,1087.34 L454.19,1087.60 L456.21,1087.86 L458.22,1088.12 L460.23,1088.37 L462.25,1088.62 L464.26,1088.87 L466.27,1089.12 L468.29,1089.37 L470.30,1089.61 L472.32,1089.85 L474.33,1090.09 L476.34,1090.33 L478.36,1090.57 L480.37,1090.80 L482.38,1091.03 L484.40,1091.26 L486.41,1091.49 L488.42,1091.72 L490.44,1091.94 L492.45,1092.17 L494.47,1092.39 L496.48,1092.61 L498.49,1092.83 L500.51,1093.04 L502.52,1093.26 L504.53,1093.47 L506.55,1093.68 L508.56,1093.89 L510.58,1094.10 L512.59,1094.30 L514.60,1094.51 L516.62,1094.71 L518.63,1094.91 L520.64,1095.11 L522.66,1095.31 L524.67,1095.50 L526.68,1095.70 L528.70,1095.89 L530.71,1096.08 L532.73,1096.27 L534.74,1096.46 L536.75,1096.64 L538.77,1096.83 L540.78,1097.01 L542.79,1097.19 L544.81,1097.38 L546.82,1097.55 L548.83,1097.73 L550.85,1097.91 L552.86,1098.08 L554.88,1098.26 L556.89,1098.43 L558.90,1098.60 L560.92,1098.77 L562.93,1098.94 L564.94,1099.10 L566.96,1099.27 L568.97,1099.43 L570.99,1099.59 L573.00,1099.76 L575.01,1099.92 L577.03,1100.07 L579.04,1100.23 L581.05,1100.39 L583.07,1100.54 L585.08,1100.70 L587.09,1100.85 L589.11,1101.00 L591.12,1101.15 L593.14,1101.30 L595.15,1101.44 L597.16,1101.59 L599.18,1101.74 L601.19,1101.88 L603.20,1102.02 L605.22,1102.16 L607.23,1102.30 L609.24,1102.44 L611.26,1102.58 L613.27,1102.72 L615.29,1102.85 L617.30,1102.99 L619.31,1103.12 L621.33,1103.26 L623.34,1103.39 L625.35,1103.52 L627.37,1103.65 L629.38,1103.78 L631.40,1103.90 L633.41,1104.03 L635.42,1104.15 L637.44,1104.28 L639.45,1104.40 L641.46,1104.52 L643.48,1104.65 L645.49,1104.77 L647.50,1104.88 L649.52,1105.00 L651.53,1105.12 L653.55,1105.24 L655.56,1105.35 L657.57,1105.47 L659.59,1105.58 L661.60,1105.69" fill="none" stroke="#0000ff" stroke-width="3.7" stroke-linejoin="round"/>
<path d="M57.50,1119.50 L59.51,1115.52 L61.53,1111.57 L63.54,1107.66 L65.55,1103.78 L67.57,1099.93 L69.58,1096.11 L71.60,1092.33 L73.61,1088.58 L75.62,1084.86 L77.64,1081.17 L79.65,1077.51 L81.66,1073.88 L83.68,1070.28 L85.69,1066.72 L87.70,1063.18 L89.72,1059.67 L91.73,1056.19 L93.75,1052.74 L95.76,1049.33 L97.77,1045.93 L99.79,1042.57 L101.80,1039.24 L103.81,1035.93 L105.83,1032.65 L107.84,1029.40 L109.86,1026.18 L111.87,1022.98 L113.88,1019.81 L115.90,1016.67 L117.91,1013.55 L119.92,1010.46 L121.94,1007.40 L123.95,1004.36 L125.96,1001.35 L127.98,998.36 L129.99,995.40 L132.01,992.46 L134.02,989.55 L136.03,986.66 L138.05,983.79 L140.06,980.95 L142.07,978.14 L144.09,975.34 L146.10,972.57 L148.12,969.83 L150.13,967.11 L152.14,964.41 L154.16,961.73 L156.17,959.07 L158.18,956.44 L160.20,953.83 L162.21,951.24 L164.22,948.68 L166.24,946.13 L168.25,943.61 L170.27,941.10 L172.28,938.62 L174.29,936.16 L176.31,933.72 L178.32,931.30 L180.33,928.90 L182.35,926.52 L184.36,924.17 L186.37,921.83 L188.39,919.51 L190.40,917.21 L192.42,914.93 L194.43,912.66 L196.44,910.42 L198.46,908.20 L200.47,905.99 L202.48,903.81 L204.50,901.64 L206.51,899.49 L208.53,897.36 L210.54,895.24 L212.55,893.15 L214.57,891.07 L216.58,889.01 L218.59,886.96 L220.61,884.94 L222.62,882.93 L224.63,880.94 L226.65,878.96 L228.66,877.00 L230.68,875.06 L232.69,873.13 L234.70,871.22 L236.72,869.33 L238.73,867.45 L240.74,865.59 L242.76,863.74 L244.77,861.91 L246.78,860.09 L248.80,858.29 L250.81,856.51 L252.83,854.73 L254.84,852.98 L256.85,851.24 L258.87,849.51 L260.88,847.80 L262.89,846.10 L264.91,844.42 L266.92,842.75 L268.94,841.10 L270.95,839.45 L272.96,837.83 L274.98,836.21 L276.99,834.61 L279.00,833.03 L281.02,831.45 L283.03,829.89 L285.04,828.35 L287.06,826.81 L289.07,825.29 L291.09,823.78 L293.10,822.29 L295.11,820.80 L297.13,819.33 L299.14,817.88 L301.15,816.43 L303.17,815.00 L305.18,813.57 L307.19,812.16 L309.21,810.77 L311.22,809.38 L313.24,808.01 L315.25,806.64 L317.26,805.29 L319.28,803.95 L321.29,802.62 L323.30,801.30 L325.32,800.00 L327.33,798.70 L329.35,797.42 L331.36,796.14 L333.37,794.88 L335.39,793.63 L337.40,792.38 L339.41,791.15 L341.43,789.93 L343.44,788.72 L345.45,787.52 L347.47,786.33 L349.48,785.15 L351.50,783.98 L353.51,782.82 L355.52,781.66 L357.54,780.52 L359.55,779.39 L361.56,778.27 L363.58,777.15 L365.59,776.05 L367.60,774.96 L369.62,773.87 L371.63,772.79 L373.65,771.73 L375.66,770.67 L377.67,769.62 L379.69,768.58 L381.70,767.55 L383.71,766.53 L385.73,765.51 L387.74,764.50 L389.76,763.51 L391.77,762.52 L393.78,761.54 L395.80,760.56 L397.81,759.60 L399.82,758.64 L401.84,757.70 L403.85,756.76 L405.86,755.82 L407.88,754.90 L409.89,753.98 L411.91,753.07 L413.92,752.17 L415.93,751.28 L417.95,750.39 L419.96,749.51 L421.97,748.64 L423.99,747.78 L426.00,746.92 L428.01,746.07 L430.03,745.23 L432.04,744.39 L434.06,743.56 L436.07,742.74 L438.08,741.93 L440.10,741.12 L442.11,740.32 L444.12,739.52 L446.14,738.74 L448.15,737.96 L450.16,737.18 L452.18,736.41 L454.19,735.65 L456.21,734.90 L458.22,734.15 L460.23,733.41 L462.25,732.67 L464.26,731.94 L466.27,731.22 L468.29,730.50 L470.30,729.79 L472.32,729.08 L474.33,728.38 L476.34,727.69 L478.36,727.00 L480.37,726.32 L482.38,725.64 L484.40,724.97 L486.41,724.30 L488.42,723.65 L490.44,722.99 L492.45,722.34 L494.47,721.70 L496.48,721.06 L498.49,720.43 L500.51,719.80 L502.52,719.18 L504.53,718.56 L506.55,717.95 L508.56,717.35 L510.58,716.74 L512.59,716.15 L514.60,715.56 L516.62,714.97 L518.63,714.39 L520.64,713.81 L522.66,713.24 L524.67,712.68 L526.68,712.11 L528.70,711.56 L530.71,711.00 L532.73,710.46 L534.74,709.91 L536.75,709.37 L538.77,708.84 L540.78,708.31 L542.79,707.78 L544.81,707.26 L546.82,706.75 L548.83,706.24 L550.85,705.73 L552.86,705.22 L554.88,704.72 L556.89,704.23 L558.90,703.74 L560.92,703.25 L562.93,702.77 L564.94,702.29 L566.96,701.82 L568.97,701.35 L570.99,700.88 L573.00,700.42 L575.01,699.96 L577.03,699.50 L579.04,699.05 L581.05,698.60 L583.07,698.16 L585.08,697.72 L587.09,697.28 L589.11,696.85 L591.12,696.42 L593.14,696.00 L595.15,695.57 L597.16,695.16 L599.18,694.74 L601.19,694.33 L603.20,693.92 L605.22,693.52 L607.23,693.12 L609.24,692.72 L611.26,692.33 L613.27,691.93 L615.29,691.55 L617.30,691.16 L619.31,690.78 L621.33,690.40 L623.34,690.03 L625.35,689.66 L627.37,689.29 L629.38,688.92 L631.40,688.56 L633.41,688.20 L635.42,687.85 L637.44,687.49 L639.45,687.14 L641.46,686.79 L643.48,686.45 L645.49,686.11 L647.50,685.77 L649.52,685.43 L651.53,685.10 L653.55,684.77 L655.56,684.44 L657.57,684.12 L659.59,683.80 L661.60,683.48" fill="none" stroke="#ff0000" stroke-width="3.7" stroke-linejoin="round"/>
<text transform="translate(5.50,703.30) scale(0.8250,1)" font-family="'Liberation Serif', serif" font-style="normal" font-weight="normal" font-size="15.08" fill="#000">2</text>
<text transform="translate(11.87,703.30) scale(0.8000,1)" font-family="'Liberation Serif', serif" font-style="normal" font-weight="normal" font-size="14.80" fill="#000">.</text>
<text transform="translate(16.28,703.38) scale(1.0250,1)" font-family="'Liberation Serif', serif" font-style="normal" font-weight="normal" font-size="13.66" fill="#000">×</text>
<text transform="translate(25.70,703.30) scale(0.6633,1)" font-family="'Liberation Serif', serif" font-style="normal" font-weight="normal" font-size="15.08" fill="#000">1</text>
<text transform="translate(31.35,703.15) scale(0.7651,1)" font-family="'Liberation Serif', serif" font-style="normal" font-weight="normal" font-size="14.63" fill="#000">0</text>
<text transform="translate(37.36,697.50) scale(0.7035,1)" font-family="'Liberation Serif', serif" font-style="normal" font-weight="normal" font-size="10.15" fill="#000">1</text>
<text transform="translate(40.91,697.40) scale(0.9679,1)" font-family="'Liberation Serif', serif" font-style="normal" font-weight="normal" font-size="9.85" fill="#000">9</text>
<text transform="translate(-0.10,807.80) scale(0.5875,1)" font-family="'Liberation Serif', serif" font-style="normal" font-weight="normal" font-size="15.08" fill="#000">1</text>
<text transform="translate(5.77,807.80) scale(0.8000,1)" font-family="'Liberation Serif', serif" font-style="normal" font-weight="normal" font-size="14.80" fill="#000">.</text>
<text transform="translate(7.06,807.65) scale(0.9429,1)" font-family="'Liberation Serif', serif" font-style="normal" font-weight="normal" font-size="14.85" fill="#000">5</text>
<text transform="translate(16.28,807.88) scale(1.0250,1)" font-family="'Liberation Serif', serif" font-style="normal" font-weight="normal" font-size="13.66" fill="#000">×</text>
<text transform="translate(25.70,807.80) scale(0.6633,1)" font-family="'Liberation Serif', serif" font-style="normal" font-weight="normal" font-size="15.08" fill="#000">1</text>
<text transform="translate(31.35,807.65) scale(0.7651,1)" font-family="'Liberation Serif', serif" font-style="normal" font-weight="normal" font-size="14.63" fill="#000">0</text>
<text transform="translate(37.36,802.00) scale(0.7035,1)" font-family="'Liberation Serif', serif" font-style="normal" font-weight="normal" font-size="10.15" fill="#000">1</text>
<text transform="translate(40.91,801.90) scale(0.9679,1)" font-family="'Liberation Serif', serif" font-style="normal" font-weight="normal" font-size="9.85" fill="#000">9</text>
<text transform="translate(6.00,913.40) scale(0.5875,1)" font-family="'Liberation Serif', serif" font-style="normal" font-weight="normal" font-size="15.08" fill="#000">1</text>
<text transform="translate(11.87,913.40) scale(0.8000,1)" font-family="'Liberation Serif', serif" font-style="normal" font-weight="normal" font-size="14.80" fill="#000">.</text>
<text transform="translate(16.28,913.48) scale(1.0250,1)" font-family="'Liberation Serif', serif" font-style="normal" font-weight="normal" font-size="13.66" fill="#000">×</text>
<text transform="translate(25.70,913.40) scale(0.6633,1)" font-family="'Liberation Serif', serif" font-style="normal" font-weight="normal" font-size="15.08" fill="#000">1</text>
<text transform="translate(31.35,913.25) scale(0.7651,1)" font-family="'Liberation Serif', serif" font-style="normal" font-weight="normal" font-size="14.63" fill="#000">0</text>
<text transform="translate(37.36,907.60) scale(0.7035,1)" font-family="'Liberation Serif', serif" font-style="normal" font-weight="normal" font-size="10.15" fill="#000">1</text>
<text transform="translate(40.91,907.50) scale(0.9679,1)" font-family="'Liberation Serif', serif" font-style="normal" font-weight="normal" font-size="9.85" fill="#000">9</text>
<text transform="translate(5.24,1019.45) scale(0.8587,1)" font-family="'Liberation Serif', serif" font-style="normal" font-weight="normal" font-size="14.85" fill="#000">5</text>
<text transform="translate(11.87,1019.60) scale(0.8000,1)" font-family="'Liberation Serif', serif" font-style="normal" font-weight="normal" font-size="14.80" fill="#000">.</text>
<text transform="translate(16.28,1019.68) scale(1.0250,1)" font-family="'Liberation Serif', serif" font-style="normal" font-weight="normal" font-size="13.66" fill="#000">×</text>
<text transform="translate(25.70,1019.60) scale(0.6633,1)" font-family="'Liberation Serif', serif" font-style="normal" font-weight="normal" font-size="15.08" fill="#000">1</text>
<text transform="translate(31.35,1019.45) scale(0.7651,1)" font-family="'Liberation Serif', serif" font-style="normal" font-weight="normal" font-size="14.63" fill="#000">0</text>
<text transform="translate(37.36,1013.80) scale(0.7035,1)" font-family="'Liberation Serif', serif" font-style="normal" font-weight="normal" font-size="10.15" fill="#000">1</text>
<text transform="translate(40.81,1013.70) scale(0.9910,1)" font-family="'Liberation Serif', serif" font-style="normal" font-weight="normal" font-size="9.85" fill="#000">8</text>
<text transform="translate(39.83,1123.67) scale(0.8883,1)" font-family="'Liberation Serif', serif" font-style="normal" font-weight="normal" font-size="13.13" fill="#000">0</text>
<text transform="translate(53.85,1144.07) scale(0.8331,1)" font-family="'Liberation Serif', serif" font-style="normal" font-weight="normal" font-size="13.43" fill="#000">0</text>
<text transform="translate(162.48,1143.76) scale(0.8064,1)" font-family="'Liberation Serif', serif" font-style="normal" font-weight="normal" font-size="13.58" fill="#000">0</text>
<text transform="translate(168.95,1143.90) scale(0.8000,1)" font-family="'Liberation Serif', serif" font-style="normal" font-weight="normal" font-size="13.80" fill="#000">.</text>
<text transform="translate(171.41,1143.76) scale(0.7538,1)" font-family="'Liberation Serif', serif" font-style="normal" font-weight="normal" font-size="13.58" fill="#000">0</text>
<text transform="translate(176.30,1143.76) scale(0.7713,1)" font-family="'Liberation Serif', serif" font-style="normal" font-weight="normal" font-size="13.58" fill="#000">0</text>
<text transform="translate(181.72,1143.76) scale(0.7363,1)" font-family="'Liberation Serif', serif" font-style="normal" font-weight="normal" font-size="13.58" fill="#000">0</text>
<text transform="translate(187.41,1143.90) scale(0.9059,1)" font-family="'Liberation Serif', serif" font-style="normal" font-weight="normal" font-size="14.00" fill="#000">2</text>
<text transform="translate(283.30,1143.76) scale(0.8064,1)" font-family="'Liberation Serif', serif" font-style="normal" font-weight="normal" font-size="13.58" fill="#000">0</text>
<text transform="translate(289.77,1143.90) scale(0.8000,1)" font-family="'Liberation Serif', serif" font-style="normal" font-weight="normal" font-size="13.80" fill="#000">.</text>
<text transform="translate(292.23,1143.76) scale(0.7538,1)" font-family="'Liberation Serif', serif" font-style="normal" font-weight="normal" font-size="13.58" fill="#000">0</text>
<text transform="translate(297.12,1143.76) scale(0.7713,1)" font-family="'Liberation Serif', serif" font-style="normal" font-weight="normal" font-size="13.58" fill="#000">0</text>
<text transform="translate(302.54,1143.76) scale(0.7363,1)" font-family="'Liberation Serif', serif" font-style="normal" font-weight="normal" font-size="13.58" fill="#000">0</text>
<text transform="translate(308.52,1143.90) scale(0.7903,1)" font-family="'Liberation Serif', serif" font-style="normal" font-weight="normal" font-size="14.00" fill="#000">4</text>
<text transform="translate(404.12,1143.76) scale(0.8064,1)" font-family="'Liberation Serif', serif" font-style="normal" font-weight="normal" font-size="13.58" fill="#000">0</text>
<text transform="translate(410.59,1143.90) scale(0.8000,1)" font-family="'Liberation Serif', serif" font-style="normal" font-weight="normal" font-size="13.80" fill="#000">.</text>
<text transform="translate(413.05,1143.76) scale(0.7538,1)" font-family="'Liberation Serif', serif" font-style="normal" font-weight="normal" font-size="13.58" fill="#000">0</text>
<text transform="translate(417.94,1143.76) scale(0.7713,1)" font-family="'Liberation Serif', serif" font-style="normal" font-weight="normal" font-size="13.58" fill="#000">0</text>
<text transform="translate(423.36,1143.76) scale(0.7363,1)" font-family="'Liberation Serif', serif" font-style="normal" font-weight="normal" font-size="13.58" fill="#000">0</text>
<text transform="translate(429.08,1143.76) scale(0.8904,1)" font-family="'Liberation Serif', serif" font-style="normal" font-weight="normal" font-size="13.58" fill="#000">6</text>
<text transform="translate(524.94,1143.76) scale(0.8064,1)" font-family="'Liberation Serif', serif" font-style="normal" font-weight="normal" font-size="13.58" fill="#000">0</text>
<text transform="translate(531.41,1143.90) scale(0.8000,1)" font-family="'Liberation Serif', serif" font-style="normal" font-weight="normal" font-size="13.80" fill="#000">.</text>
<text transform="translate(533.87,1143.76) scale(0.7538,1)" font-family="'Liberation Serif', serif" font-style="normal" font-weight="normal" font-size="13.58" fill="#000">0</text>
<text transform="translate(538.76,1143.76) scale(0.7713,1)" font-family="'Liberation Serif', serif" font-style="normal" font-weight="normal" font-size="13.58" fill="#000">0</text>
<text transform="translate(544.18,1143.76) scale(0.7363,1)" font-family="'Liberation Serif', serif" font-style="normal" font-weight="normal" font-size="13.58" fill="#000">0</text>
<text transform="translate(549.88,1143.76) scale(0.9116,1)" font-family="'Liberation Serif', serif" font-style="normal" font-weight="normal" font-size="13.58" fill="#000">8</text>
<text transform="translate(645.75,1143.76) scale(0.8239,1)" font-family="'Liberation Serif', serif" font-style="normal" font-weight="normal" font-size="13.58" fill="#000">0</text>
<text transform="translate(652.23,1143.90) scale(0.8000,1)" font-family="'Liberation Serif', serif" font-style="normal" font-weight="normal" font-size="13.80" fill="#000">.</text>
<text transform="translate(654.65,1143.76) scale(0.8239,1)" font-family="'Liberation Serif', serif" font-style="normal" font-weight="normal" font-size="13.58" fill="#000">0</text>
<text transform="translate(659.87,1143.76) scale(0.7889,1)" font-family="'Liberation Serif', serif" font-style="normal" font-weight="normal" font-size="13.58" fill="#000">0</text>
<text transform="translate(665.70,1143.90) scale(0.7143,1)" font-family="'Liberation Serif', serif" font-style="normal" font-weight="normal" font-size="14.00" fill="#000">1</text>
<text transform="translate(670.95,1143.76) scale(0.8239,1)" font-family="'Liberation Serif', serif" font-style="normal" font-weight="normal" font-size="13.58" fill="#000">0</text>
<text transform="translate(338.73,1172.38) scale(0.9098,1)" font-family="'Liberation Serif', serif" font-style="italic" font-weight="bold" font-size="31.75" fill="#000">t</text>
<path d="M355.00,1151.70 C347.53,1158.94 347.53,1171.26 355.00,1178.50 L354.50,1178.20 C350.10,1171.26 350.10,1158.94 354.50,1152.00 Z" fill="#000" stroke="#000" stroke-width="0.35"/>
<text transform="translate(358.50,1172.41) scale(0.8952,1)" font-family="'Liberation Serif', serif" font-style="italic" font-weight="bold" font-size="29.17" fill="#000">s</text>
<path d="M370.30,1151.70 C377.63,1158.94 377.63,1171.26 370.30,1178.50 L370.80,1178.20 C375.07,1171.26 375.07,1158.94 370.80,1152.00 Z" fill="#000" stroke="#000" stroke-width="0.35"/>
<rect x="192.4" y="1184.9" width="291" height="61.7" fill="none" stroke="#444" stroke-width="1.5"/>
<line x1="195.3" y1="1215.5" x2="225.2" y2="1215.5" stroke="#0000ff" stroke-width="4.7"/>
<text transform="translate(228.52,1225.20) scale(0.7903,1)" font-family="'Liberation Serif', serif" font-style="italic" font-weight="bold" font-size="30.21" fill="#000">n</text>
<text transform="translate(240.95,1238.06) scale(0.8185,1)" font-family="'Liberation Serif', serif" font-style="italic" font-weight="bold" font-size="23.53" fill="#000">p</text>
<path d="M261.10,1195.10 C251.90,1204.95 251.90,1221.74 261.10,1231.60 L260.60,1231.30 C254.87,1221.74 254.87,1204.95 260.60,1195.40 Z" fill="#000" stroke="#000" stroke-width="0.35"/>
<text transform="translate(265.07,1224.90) scale(0.7780,1)" font-family="'Liberation Serif', serif" font-style="italic" font-weight="bold" font-size="29.58" fill="#000">cm</text>
<rect x="297.90" y="1203.10" width="7.70" height="1.60" fill="#000"/>
<text transform="translate(307.25,1211.06) scale(0.8646,1)" font-family="'Liberation Serif', serif" font-style="normal" font-weight="bold" font-size="24.48" fill="#000">3</text>
<path d="M321.00,1194.90 C330.73,1204.81 330.73,1221.69 321.00,1231.60 L321.50,1231.30 C327.77,1221.69 327.77,1204.81 321.50,1195.20 Z" fill="#000" stroke="#000" stroke-width="0.35"/>
<line x1="337" y1="1215.5" x2="367.3" y2="1215.5" stroke="#ff0000" stroke-width="4.7"/>
<text transform="translate(373.42,1225.20) scale(0.7971,1)" font-family="'Liberation Serif', serif" font-style="italic" font-weight="bold" font-size="30.21" fill="#000">n</text>
<text transform="translate(385.97,1239.15) scale(1.0435,1)" font-family="'Liberation Serif', serif" font-style="normal" font-weight="normal" font-size="24.58" fill="#000">α</text>
<path d="M410.60,1195.10 C401.27,1204.95 401.27,1221.74 410.60,1231.60 L410.10,1231.30 C404.23,1221.74 404.23,1204.95 410.10,1195.40 Z" fill="#000" stroke="#000" stroke-width="0.35"/>
<text transform="translate(413.06,1224.90) scale(0.8072,1)" font-family="'Liberation Serif', serif" font-style="italic" font-weight="bold" font-size="29.58" fill="#000">cm</text>
<rect x="445.50" y="1201.90" width="8.20" height="1.50" fill="#000"/>
<text transform="translate(455.29,1209.56) scale(0.8580,1)" font-family="'Liberation Serif', serif" font-style="normal" font-weight="bold" font-size="23.58" fill="#000">3</text>
<path d="M468.90,1194.20 C478.77,1204.24 478.77,1221.36 468.90,1231.40 L469.40,1231.10 C475.80,1221.36 475.80,1204.24 469.40,1194.50 Z" fill="#000" stroke="#000" stroke-width="0.35"/>
<text transform="translate(322.52,1319.53) scale(1.0259,1)" font-family="'Liberation Serif', serif" font-style="normal" font-weight="normal" font-size="33.67" fill="#000">(b)</text>
</svg></body></html>
